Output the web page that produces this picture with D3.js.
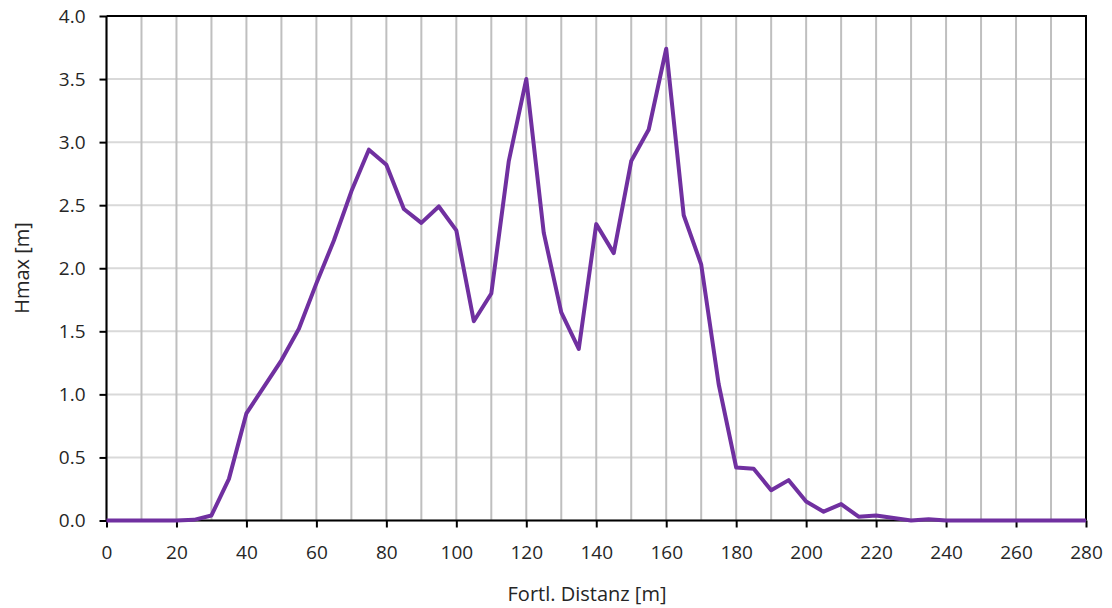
<!DOCTYPE html>
<html>
<head>
<meta charset="utf-8">
<script src="https://cdn.jsdelivr.net/npm/d3@7"></script>
<style>
  body { margin: 0; background: #fff; }
  svg { display: block; font-family: "Open Sans", sans-serif; }
</style>
</head>
<body>
<svg width="1112" height="608"></svg>
<script>
// distance along path [m]
var distanz = [0, 5, 10, 15, 20, 25, 30, 35, 40, 45, 50, 55, 60, 65, 70, 75, 80, 85, 90, 95,
  100, 105, 110, 115, 120, 125, 130, 135, 140, 145, 150, 155, 160, 165, 170, 175, 180, 185,
  190, 195, 200, 205, 210, 215, 220, 225, 230, 235, 240, 245, 250, 255, 260, 265, 270, 275, 280];
// Hmax [m]
var hmax = [0, 0, 0, 0, 0, 0.005, 0.04, 0.33, 0.85, 1.06, 1.27, 1.52, 1.88, 2.22, 2.61, 2.94, 2.82,
  2.47, 2.36, 2.49, 2.30, 1.58, 1.80, 2.85, 3.50, 2.28, 1.65, 1.36, 2.35, 2.12, 2.85, 3.10, 3.74,
  2.42, 2.03, 1.08, 0.42, 0.41, 0.24, 0.32, 0.15, 0.07, 0.13, 0.03, 0.04, 0.02, 0.0, 0.01, 0,
  0, 0, 0, 0, 0, 0, 0, 0];

var xTicks = d3.range(0, 281, 20);
var xGrid = d3.range(0, 281, 10);
var yTicks = d3.range(0, 4.01, 0.5);

var svg = d3.select("svg");
var plotL = 106.5, plotR = 1086, plotT = 16, plotB = 520.5;

var x = d3.scaleLinear().domain([0, 280]).range([plotL, plotR]);
var y = d3.scaleLinear().domain([0, 4]).range([plotB, plotT]);

// gridlines
svg.append("g")
  .selectAll("line")
  .data(yTicks)
  .enter()
  .append("line")
  .attr("x1", plotL).attr("x2", plotR)
  .attr("y1", (d) => y(d)).attr("y2", (d) => y(d))
  .style("stroke", "#d9d9d9")
  .style("stroke-width", 2);

svg.append("g")
  .selectAll("line")
  .data(xGrid)
  .enter()
  .append("line")
  .attr("x1", (d) => x(d)).attr("x2", (d) => x(d))
  .attr("y1", plotT).attr("y2", plotB)
  .style("stroke", "#bfbfbf")
  .style("stroke-width", 2);

// frame top + right
svg.append("path")
  .attr("d", "M" + plotL + "," + plotT + "H" + plotR + "V" + plotB)
  .style("fill", "none")
  .style("stroke", "#000")
  .style("stroke-width", 2);

var xAxis = svg.append("g")
  .attr("transform", "translate(0," + plotB + ")")
  .call(d3.axisBottom(x).tickValues(xTicks).tickSize(7).tickPadding(18).tickFormat(d3.format("d")));

var yAxis = svg.append("g")
  .attr("transform", "translate(" + plotL + ",0)")
  .call(d3.axisLeft(y).tickValues(yTicks).tickSize(7).tickPadding(14).tickFormat(d3.format(".1f")));

[xAxis, yAxis].forEach((a) => {
  a.select(".domain").style("stroke", "#000").style("stroke-width", 2);
  a.selectAll(".tick line").style("stroke", "#000").style("stroke-width", 2);
  a.selectAll(".tick text").style("font-size", "19px").style("fill", "#262626")
    .style("font-family", "'Open Sans', sans-serif");
});
yAxis.select(".domain").attr("d", "M0," + plotB + "V" + plotT);
xAxis.select(".domain").attr("d", "M" + plotL + ",0H" + plotR);

// line
var line = d3.line()
  .x((d, i) => x(distanz[i]))
  .y((d) => y(d));

svg.append("path")
  .datum(hmax)
  .attr("d", line)
  .style("fill", "none")
  .style("stroke", "#7030a0")
  .style("stroke-width", 4)
  .style("stroke-linejoin", "round");

// axis titles
svg.append("text")
  .attr("transform", "translate(29," + 268 + ") rotate(-90)")
  .attr("text-anchor", "middle")
  .style("font-size", "20px")
  .style("fill", "#262626")
  .text("Hmax [m]");

svg.append("text")
  .attr("x", 587)
  .attr("y", 601)
  .attr("text-anchor", "middle")
  .style("font-size", "20px")
  .style("fill", "#262626")
  .text("Fortl. Distanz [m]");
</script>
</body>
</html>
